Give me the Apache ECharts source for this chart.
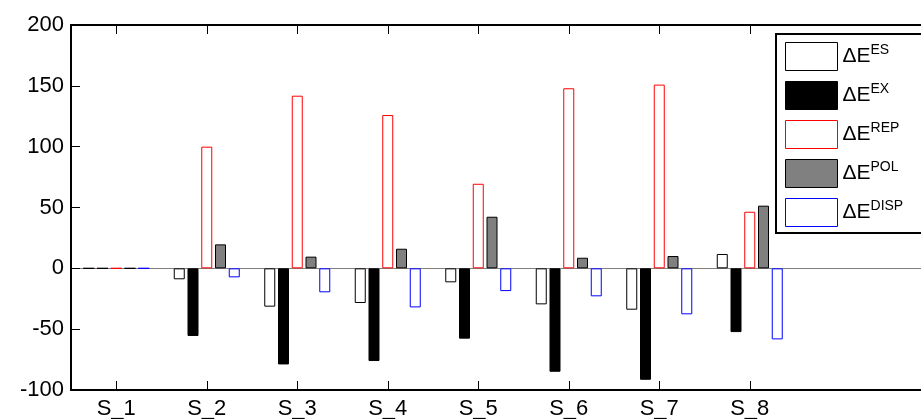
<!DOCTYPE html>
<html>
<head>
<meta charset="utf-8">
<script src="https://cdn.jsdelivr.net/npm/echarts@6/dist/echarts.min.js"></script>
<style>
  html, body { margin: 0; padding: 0; background: #fff; }
  #chart { width: 921px; height: 419px; }
</style>
</head>
<body>
<div id="chart"></div>
<script>
// 数据
var categories = ['S_1', 'S_2', 'S_3', 'S_4', 'S_5', 'S_6', 'S_7', 'S_8', '', ''];
var esData   = [0,  -9.0, -31.5, -28.5, -11.5, -29.6, -34.0,  11.8];
var exData   = [0, -55.6, -79.0, -76.2, -57.8, -85.0, -91.6, -52.4];
var repData  = [0, 100.0, 141.9, 126.0,  69.5, 148.0, 151.0,  46.5];
var polData  = [0,  19.7,   9.6,  16.1,  42.4,   8.7,  10.1,  51.5];
var dispData = [0,  -7.4, -19.7, -32.1, -18.7, -23.0, -37.8, -58.4];
var yTicks = [-100, -50, 0, 50, 100, 150, 200];

var chart = echarts.init(document.getElementById('chart'));

function barSeries(name, data, fill, border) {
  return {
    name: name,
    type: 'bar',
    data: data,
    barWidth: 11,
    barGap: '25%',
    z: 3,
    itemStyle: { color: fill, borderColor: border, borderWidth: 1 },
    emphasis: { disabled: true }
  };
}

var series = [
  barSeries('ES', esData, '#ffffff', '#000000'),
  barSeries('EX', exData, '#000000', '#000000'),
  barSeries('REP', repData, '#ffffff', '#ff0000'),
  barSeries('POL', polData, '#808080', '#000000'),
  barSeries('DISP', dispData, '#ffffff', '#0000ff')
];
// 零线
series[0].markLine = {
  silent: true,
  symbol: 'none',
  label: { show: false },
  lineStyle: { color: '#808080', width: 1, type: 'solid' },
  data: [{ yAxis: 0 }],
  z: 1
};

var tickOpt = {
  show: true, inside: true, length: 9, alignWithLabel: true,
  interval: function (i, v) { return v !== ''; },
  lineStyle: { color: '#000', width: 1 }
};

var option = {
  animation: false,
  textStyle: { fontFamily: 'Liberation Sans, Arial, sans-serif' },
  grid: { left: 71, top: 25, width: 905, height: 365, outerBoundsMode: 'none', containLabel: false },
  legend: {
    orient: 'vertical',
    left: 776,
    top: 34,
    itemWidth: 52,
    itemHeight: 28,
    itemGap: 10,
    padding: [8, 32, 6, 9],
    borderColor: '#000',
    borderWidth: 2,
    backgroundColor: '#fff',
    icon: 'rect',
    itemStyle: { borderWidth: 1 },
    data: ['ES', 'EX', 'REP', 'POL', 'DISP'],
    formatter: function (name) {
      return '{a|ΔE}{b|' + name + '}';
    },
    textStyle: {
      rich: {
        a: { fontSize: 21, color: '#000', fontFamily: 'Liberation Sans', lineHeight: 28 },
        b: { fontSize: 14, color: '#000', fontFamily: 'Liberation Sans', lineHeight: 28, padding: [0, 0, 12, 0] }
      }
    }
  },
  xAxis: [{
    type: 'category',
    data: categories,
    position: 'bottom',
    z: 10,
    axisLine: { onZero: false, lineStyle: { color: '#000', width: 2 } },
    axisTick: tickOpt,
    axisLabel: { color: '#000', fontSize: 22, margin: 8, interval: 0 },
    splitLine: { show: false }
  }, {
    type: 'category',
    data: categories,
    position: 'top',
    z: 10,
    axisLine: { onZero: false, lineStyle: { color: '#000', width: 2 } },
    axisTick: tickOpt,
    axisLabel: { show: false }
  }],
  yAxis: {
    type: 'value',
    min: yTicks[0],
    max: yTicks[yTicks.length - 1],
    interval: 50,
    z: 10,
    axisLine: { show: true, lineStyle: { color: '#000', width: 2 } },
    axisTick: { show: true, inside: true, length: 9, lineStyle: { color: '#000', width: 1 } },
    axisLabel: { color: '#000', fontSize: 22, margin: 7 },
    splitLine: { show: false }
  },
  series: series
};

chart.setOption(option);
</script>
</body>
</html>
